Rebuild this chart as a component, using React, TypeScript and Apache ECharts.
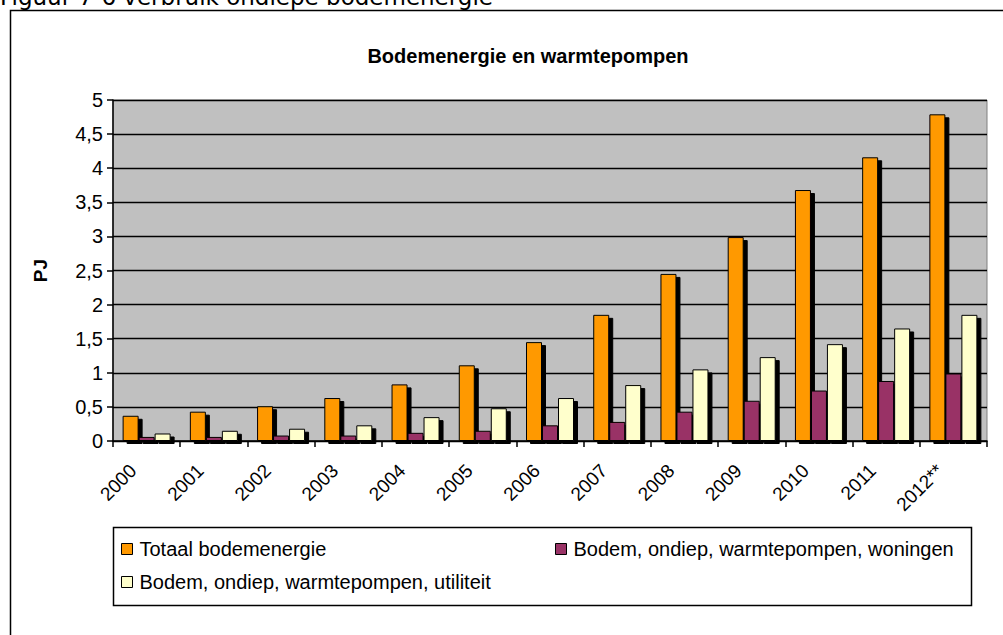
import React, { useEffect, useRef } from "react";
import * as echarts from "echarts";

const categories = ["2000", "2001", "2002", "2003", "2004", "2005", "2006", "2007", "2008", "2009", "2010", "2011", "2012**"];
const totaal = [0.37, 0.43, 0.51, 0.63, 0.83, 1.11, 1.45, 1.85, 2.45, 2.99, 3.68, 4.16, 4.79];
const woningen = [0.06, 0.06, 0.08, 0.08, 0.12, 0.15, 0.23, 0.28, 0.43, 0.59, 0.74, 0.88, 0.99];
const utiliteit = [0.11, 0.15, 0.18, 0.23, 0.35, 0.48, 0.63, 0.82, 1.05, 1.23, 1.42, 1.65, 1.85];
const seriesNames = [
  "Totaal bodemenergie",
  "Bodem, ondiep, warmtepompen, woningen",
  "Bodem, ondiep, warmtepompen, utiliteit",
];
const colors = ["#FF9900", "#993366", "#FFFFCC"];

const FONT = "Liberation Sans, Arial, sans-serif";

export default function App() {
  const ref = useRef<HTMLDivElement>(null);
  useEffect(() => {
    if (!ref.current) return;
    const chart = echarts.init(ref.current, undefined, { renderer: "svg" });
    const datasets = [totaal, woningen, utiliteit];
    const legendPos = [
      { left: 121, top: 539 },
      { left: 555, top: 539 },
      { left: 121, top: 572 },
    ];
    chart.setOption({
      animation: false,
      backgroundColor: "#ffffff",
      title: {
        text: "Bodemenergie en warmtepompen",
        left: 523,
        top: 41,
        textAlign: "center",
        textStyle: { fontFamily: FONT, fontSize: 20, fontWeight: "bold", color: "#000" },
      },
      legend: legendPos.map((p, i) => ({
        data: [seriesNames[i]],
        left: p.left,
        top: p.top,
        itemWidth: 11,
        itemHeight: 11,
        itemGap: 0,
        padding: 0,
        icon: "rect",
        selectedMode: false,
        textStyle: { fontFamily: FONT, fontSize: 20, color: "#000", padding: [0, 0, 0, 2] },
        itemStyle: { borderColor: "#000", borderWidth: 1, shadowBlur: 0, shadowOffsetX: 0, shadowOffsetY: 0, shadowColor: "rgba(0,0,0,0)" },
      })),
      grid: {
        left: 113,
        right: 16,
        top: 100,
        bottom: 194,
        show: true,
        backgroundColor: "#C0C0C0",
        borderColor: "#808080",
        borderWidth: 1,
      },
      xAxis: {
        type: "category",
        data: categories,
        axisLine: { lineStyle: { color: "#000", width: 1.5 } },
        axisTick: { show: true, interval: 0, length: 6, lineStyle: { color: "#000", width: 1.5 } },
        axisLabel: {
          interval: 0,
          rotate: 45,
          margin: 13,
          fontFamily: FONT,
          fontSize: 19,
          color: "#000",
          padding: [0, 19, 0, 0],
        },
      },
      yAxis: {
        type: "value",
        min: 0,
        max: 5,
        interval: 0.5,
        name: "PJ",
        nameLocation: "middle",
        nameGap: 63,
        nameRotate: 90,
        nameTextStyle: { fontFamily: FONT, fontSize: 19, fontWeight: "bold", color: "#000" },
        axisLine: { show: true, lineStyle: { color: "#000", width: 1.5 } },
        axisTick: { show: true, length: 6, lineStyle: { color: "#000", width: 1.5 } },
        axisLabel: {
          margin: 10,
          fontFamily: FONT,
          fontSize: 20,
          color: "#000",
          formatter: (v: number) => String(v).replace(".", ","),
        },
        splitLine: { show: true, lineStyle: { color: "#000", width: 1.4 } },
      },
      series: datasets.map((d, i) => ({
        name: seriesNames[i],
        type: "bar",
        data: d,
        barWidth: 16,
        barGap: "0%",
        itemStyle: {
          color: colors[i],
          borderColor: "#000",
          borderWidth: 1,
          shadowColor: "#000",
          shadowBlur: 0,
          shadowOffsetX: 4,
          shadowOffsetY: 3,
        },
      })),
      graphic: [
        {
          type: "text",
          left: 0,
          top: -15,
          style: {
            text: "Figuur 7-6 verbruik ondiepe bodemenergie",
            fontFamily: "DejaVu Sans, sans-serif",
            fontSize: 23,
            fill: "#000",
          },
        },
        {
          type: "rect",
          shape: { x: 10.5, y: 10.5, width: 1100, height: 700 },
          style: { fill: "none", stroke: "#000", lineWidth: 1.5 },
          silent: true,
        },
        {
          type: "rect",
          shape: { x: 113.5, y: 527.5, width: 858, height: 78 },
          style: { fill: "none", stroke: "#000", lineWidth: 1.5 },
          silent: true,
        },
      ],
    });
    return () => chart.dispose();
  }, []);
  return (
    <div
      ref={ref}
      style={{ position: "absolute", left: 0, top: 0, width: 1003, height: 635 }}
    />
  );
}
